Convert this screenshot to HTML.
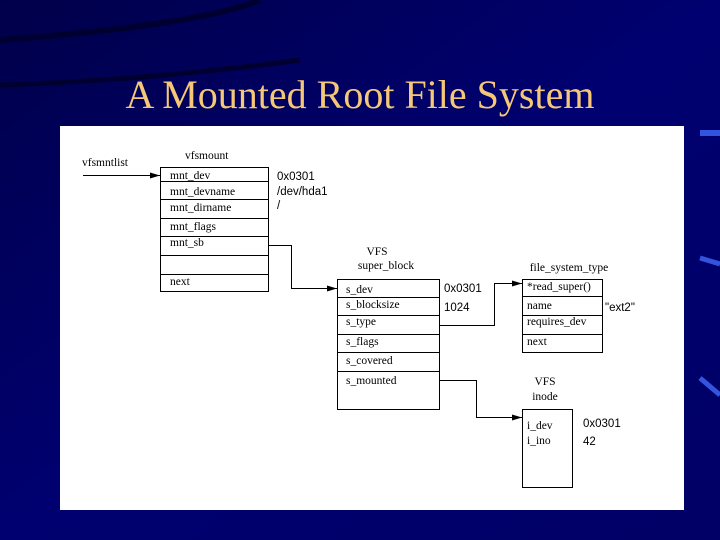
<!DOCTYPE html>
<html><head><meta charset="utf-8"><style>
html,body{margin:0;padding:0;width:720px;height:540px;overflow:hidden;background:#000066}
svg{display:block}
.s{font-family:"Liberation Serif",serif;font-size:11.5px;fill:#000}
.a{font-family:"Liberation Sans",sans-serif;font-size:11.5px;fill:#000}
</style></head><body>
<svg width="720" height="540" viewBox="0 0 720 540" xmlns="http://www.w3.org/2000/svg">
<defs>
<linearGradient id="bg" x1="0" y1="0" x2="1" y2="1">
<stop offset="0" stop-color="#00004a"/><stop offset="0.5" stop-color="#000070"/><stop offset="1" stop-color="#000066"/>
</linearGradient>
<marker id="ar" markerWidth="10" markerHeight="6" refX="10" refY="3" orient="auto" markerUnits="userSpaceOnUse">
<path d="M0,0 L10,3 L0,6 z" fill="#000"/></marker>
</defs>
<rect width="720" height="540" fill="url(#bg)"/>
<path d="M0,40 Q200,25 260,0" stroke="#000030" stroke-width="6" fill="none"/>
<path d="M0,85 Q150,80 300,60" stroke="#000030" stroke-width="5" fill="none"/>
<rect x="700" y="130" width="20" height="6" fill="#3355dd"/>
<path d="M700,258 L720,264" stroke="#3355dd" stroke-width="5"/>
<path d="M700,378 L720,395" stroke="#3355dd" stroke-width="5"/>
<text x="360" y="108" text-anchor="middle" font-family="Liberation Serif,serif" font-size="40" fill="#f5c878">A Mounted Root File System</text>
<rect x="60" y="126" width="624" height="384" fill="#fff"/>
<g stroke="#000" stroke-width="1" fill="none">
<rect x="160.5" y="167.5" width="108" height="124"/>
<line x1="160" y1="181.5" x2="268" y2="181.5"/>
<line x1="160" y1="199.5" x2="268" y2="199.5"/>
<line x1="160" y1="218.5" x2="268" y2="218.5"/>
<line x1="160" y1="236.5" x2="268" y2="236.5"/>
<line x1="160" y1="255.5" x2="268" y2="255.5"/>
<line x1="160" y1="274.5" x2="268" y2="274.5"/>
<rect x="337.5" y="279.5" width="102" height="130"/>
<line x1="337" y1="297.5" x2="439" y2="297.5"/>
<line x1="337" y1="315.5" x2="439" y2="315.5"/>
<line x1="337" y1="334.5" x2="439" y2="334.5"/>
<line x1="337" y1="352.5" x2="439" y2="352.5"/>
<line x1="337" y1="371.5" x2="439" y2="371.5"/>
<rect x="522.5" y="279.5" width="80" height="73"/>
<line x1="522" y1="296.5" x2="602" y2="296.5"/>
<line x1="522" y1="315.5" x2="602" y2="315.5"/>
<line x1="522" y1="334.5" x2="602" y2="334.5"/>
<rect x="522.5" y="409.5" width="50" height="78"/>
<line x1="83" y1="175.5" x2="160" y2="175.5" marker-end="url(#ar)"/>
<polyline points="268,245.5 291.5,245.5 291.5,288.5 337,288.5" marker-end="url(#ar)"/>
<polyline points="439,325.5 494.5,325.5 494.5,283.5 522,283.5" marker-end="url(#ar)"/>
<polyline points="439,380.5 476.5,380.5 476.5,417.5 522,417.5" marker-end="url(#ar)"/>
</g>
<text class="s" x="82" y="166">vfsmntlist</text>
<text class="s" x="185" y="159">vfsmount</text>
<text class="s" x="170" y="179">mnt_dev</text>
<text class="s" x="170" y="195">mnt_devname</text>
<text class="s" x="170" y="211">mnt_dirname</text>
<text class="s" x="170" y="230">mnt_flags</text>
<text class="s" x="170" y="246">mnt_sb</text>
<text class="s" x="170" y="285">next</text>
<text class="a" x="277" y="180">0x0301</text>
<text class="a" x="277" y="195">/dev/hda1</text>
<text class="a" x="277" y="209">/</text>
<text class="s" x="377" y="255" text-anchor="middle">VFS</text>
<text class="s" x="386" y="269" text-anchor="middle">super_block</text>
<text class="s" x="346" y="293">s_dev</text>
<text class="s" x="346" y="308">s_blocksize</text>
<text class="s" x="346" y="325">s_type</text>
<text class="s" x="346" y="345">s_flags</text>
<text class="s" x="346" y="364">s_covered</text>
<text class="s" x="346" y="384">s_mounted</text>
<text class="a" x="444" y="292">0x0301</text>
<text class="a" x="444" y="311">1024</text>
<text class="s" x="569" y="271" text-anchor="middle">file_system_type</text>
<text class="s" x="527" y="290">*read_super()</text>
<text class="s" x="527" y="309">name</text>
<text class="s" x="527" y="325">requires_dev</text>
<text class="s" x="527" y="345">next</text>
<text class="a" x="605" y="311">"ext2"</text>
<text class="s" x="545" y="385" text-anchor="middle">VFS</text>
<text class="s" x="545" y="400" text-anchor="middle">inode</text>
<text class="s" x="527" y="429">i_dev</text>
<text class="s" x="527" y="444">i_ino</text>
<text class="a" x="583" y="427">0x0301</text>
<text class="a" x="583" y="445">42</text>
</svg>
</body></html>
